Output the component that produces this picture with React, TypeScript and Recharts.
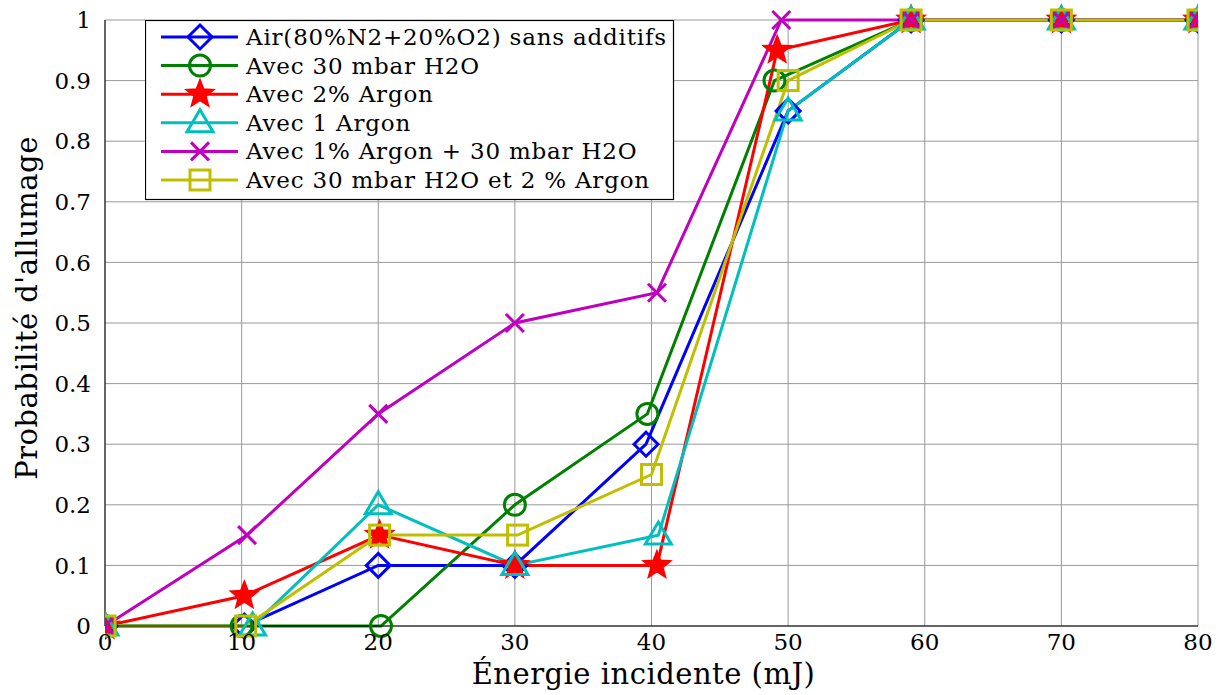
import React from "react";
import {
  LineChart,
  Line,
  XAxis,
  YAxis,
  CartesianGrid,
  Label,
} from "recharts";

// energie (mJ) et probabilite pour chaque essai
const airX = [0, 10.2, 20, 30, 39.6, 50, 59, 70, 80];
const airY = [0, 0, 0.1, 0.1, 0.3, 0.85, 1, 1, 1];

const h2oX = [0, 10, 20.2, 30, 39.7, 49, 59, 70, 80];
const h2oY = [0, 0, 0, 0.2, 0.35, 0.9, 1, 1, 1];

const ar2X = [0, 10.2, 20.1, 30, 40.4, 49.2, 59, 70, 80];
const ar2Y = [0, 0.05, 0.15, 0.1, 0.1, 0.95, 1, 1, 1];

const ar1X = [0, 10.8, 20, 30, 40.5, 50, 59, 70, 80];
const ar1Y = [0, 0, 0.2, 0.1, 0.15, 0.85, 1, 1, 1];

const ar1h2oX = [0, 10.4, 20, 30, 40.4, 49.5, 59, 70, 80];
const ar1h2oY = [0, 0.15, 0.35, 0.5, 0.55, 1, 1, 1, 1];

const h2oAr2X = [0, 10.3, 20.1, 30.2, 40, 50, 59, 70, 80];
const h2oAr2Y = [0, 0, 0.15, 0.15, 0.25, 0.9, 1, 1, 1];

const xTicks = [0, 10, 20, 30, 40, 50, 60, 70, 80];
const yTicks = [0, 0.1, 0.2, 0.3, 0.4, 0.5, 0.6, 0.7, 0.8, 0.9, 1];

const FONT = "'DejaVu Serif', serif";

const toPoints = (xs: number[], ys: number[]) =>
  xs.map((x, i) => ({ x, y: ys[i] }));

type MarkerKind = "diamond" | "circle" | "star" | "triangle" | "cross" | "square";

const Marker = ({ kind, cx, cy, color }: { kind: MarkerKind; cx: number; cy: number; color: string }) => {
  const common = { fill: "none", stroke: color, strokeWidth: 3 };
  if (kind === "diamond") {
    const r = 12;
    return <polygon points={`${cx},${cy - r} ${cx + r},${cy} ${cx},${cy + r} ${cx - r},${cy}`} {...common} />;
  }
  if (kind === "circle") return <circle cx={cx} cy={cy} r={10.5} {...common} />;
  if (kind === "square") return <rect x={cx - 10} y={cy - 10} width={20} height={20} {...common} />;
  if (kind === "triangle") {
    return <polygon points={`${cx},${cy - 13} ${cx + 13},${cy + 9} ${cx - 13},${cy + 9}`} {...common} />;
  }
  if (kind === "cross") {
    const r = 9;
    return (
      <g stroke={color} strokeWidth={3}>
        <line x1={cx - r} y1={cy - r} x2={cx + r} y2={cy + r} />
        <line x1={cx - r} y1={cy + r} x2={cx + r} y2={cy - r} />
      </g>
    );
  }
  // star
  const pts: string[] = [];
  for (let i = 0; i < 10; i++) {
    const r = i % 2 === 0 ? 14 : 6;
    const a = -Math.PI / 2 + (i * Math.PI) / 5;
    pts.push(`${cx + r * Math.cos(a)},${cy + r * Math.sin(a)}`);
  }
  return <polygon points={pts.join(" ")} fill={color} stroke={color} strokeWidth={2} />;
};

const series = [
  { name: "Air(80%N2+20%O2) sans additifs", color: "#0000ff", kind: "diamond" as MarkerKind, data: toPoints(airX, airY) },
  { name: "Avec 30 mbar H2O", color: "#008000", kind: "circle" as MarkerKind, data: toPoints(h2oX, h2oY) },
  { name: "Avec 2% Argon", color: "#ff0000", kind: "star" as MarkerKind, data: toPoints(ar2X, ar2Y) },
  { name: "Avec 1 Argon", color: "#00bfbf", kind: "triangle" as MarkerKind, data: toPoints(ar1X, ar1Y) },
  { name: "Avec 1% Argon + 30 mbar H2O", color: "#bf00bf", kind: "cross" as MarkerKind, data: toPoints(ar1h2oX, ar1h2oY) },
  { name: "Avec 30 mbar H2O et 2 % Argon", color: "#bfbf00", kind: "square" as MarkerKind, data: toPoints(h2oAr2X, h2oAr2Y) },
];

const LegendBox = () => (
  <svg width={530} height={181} style={{ display: "block" }}>
    <rect x={0.5} y={0.5} width={528} height={179} fill="#fff" stroke="#000" strokeWidth={1.2} />
    {series.map((s, i) => {
      const cy = 17 + i * 28.6;
      return (
        <g key={s.name}>
          <line x1={16} y1={cy} x2={93} y2={cy} stroke={s.color} strokeWidth={3} />
          <Marker kind={s.kind} cx={55} cy={cy} color={s.color} />
          <text x={101} y={cy + 8} fontFamily={FONT} fontSize={23} letterSpacing={0.8} fill="#000">
            {s.name}
          </text>
        </g>
      );
    })}
  </svg>
);

const yFmt = (v: number) => (v === 0 ? "0" : v === 1 ? "1" : v.toFixed(1));

const XTitle = ({ viewBox }: any) => (
  <text
    x={viewBox.x + viewBox.width / 2 - 8}
    y={viewBox.y + viewBox.height - 11}
    textAnchor="middle"
    fontFamily={FONT}
    fontSize={29}
    letterSpacing={0.5}
    fill="#000"
  >
    Énergie incidente (mJ)
  </text>
);

const YTitle = ({ viewBox }: any) => {
  const cx = viewBox.x + 37;
  const cy = viewBox.y + viewBox.height / 2 - 15;
  return (
    <text
      x={cx}
      y={cy}
      transform={`rotate(-90 ${cx} ${cy})`}
      textAnchor="middle"
      fontFamily={FONT}
      fontSize={29}
      letterSpacing={0.5}
      fill="#000"
    >
      Probabilité d'allumage
    </text>
  );
};

const App = () => {
  return (
    <div style={{ position: "absolute", left: 0, top: 0, width: 1220, height: 695, background: "#fff" }}>
      <LineChart
        width={1220}
        height={695}
        margin={{ top: 20, right: 22, left: 0, bottom: 0 }}
      >
        <CartesianGrid stroke="#999" strokeWidth={1} />
        <XAxis
          dataKey="x"
          type="number"
          domain={[0, 80]}
          ticks={xTicks}
          allowDataOverflow
          height={69}
          stroke="#000"
          tickLine={false}
          tickMargin={2}
          tick={{ fontFamily: FONT, fontSize: 23, fill: "#000" }}
        >
          <Label content={XTitle} />
        </XAxis>
        <YAxis
          type="number"
          domain={[0, 1]}
          ticks={yTicks}
          width={105}
          stroke="#000"
          tickLine={false}
          tickMargin={8}
          tickFormatter={yFmt}
          tick={{ fontFamily: FONT, fontSize: 23, fill: "#000" }}
        >
          <Label content={YTitle} />
        </YAxis>
        {series.map((s) => (
          <Line
            key={s.name}
            data={s.data}
            dataKey="y"
            name={s.name}
            stroke={s.color}
            strokeWidth={3}
            isAnimationActive={false}
            dot={(p: any) => <Marker key={`${s.name}-${p.index}`} kind={s.kind} cx={p.cx} cy={p.cy} color={s.color} />}
            activeDot={false}
          />
        ))}
      </LineChart>
      <div style={{ position: "absolute", left: 145, top: 20 }}>
        <LegendBox />
      </div>
    </div>
  );
};

export default App;
